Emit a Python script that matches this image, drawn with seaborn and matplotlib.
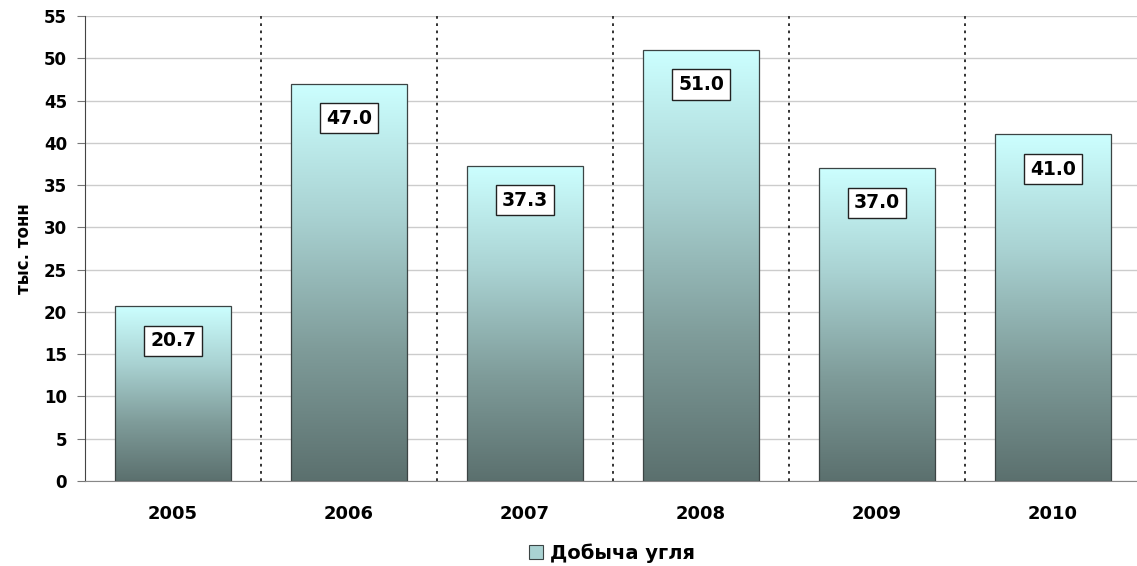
import numpy as np
import seaborn as sns
import matplotlib
matplotlib.use("Agg")
import matplotlib.pyplot as plt
from matplotlib.colors import LinearSegmentedColormap
from matplotlib.patches import Patch

# Coal production data
years = ["2005", "2006", "2007", "2008", "2009", "2010"]
production = [20.7, 47.0, 37.3, 51.0, 37.0, 41.0]
y_label = "тыс. тонн"
series_name = "Добыча угля"

sns.set_style("white")
plt.rcParams["font.family"] = ["DejaVu Sans"]
plt.rcParams["font.weight"] = "bold"
plt.rcParams["text.color"] = "black"
plt.rcParams["axes.labelcolor"] = "black"
plt.rcParams["xtick.color"] = "black"
plt.rcParams["ytick.color"] = "black"

fig = plt.figure(figsize=(11.37, 5.66), dpi=100)
ax = fig.add_axes([85 / 1137, 85 / 566, 1056 / 1137, 465 / 566])

sns.barplot(x=years, y=production, ax=ax, width=0.66, color="#9cc",
            edgecolor="#3c4444", linewidth=0.9, zorder=3)

# gradient fill inside each bar
grad_cmap = LinearSegmentedColormap.from_list(
    "coal", ["#5b706e", "#7f9c9a", "#a9d2d2", "#ccffff"])
grad = np.linspace(0, 1, 256).reshape(-1, 1)
for bar in ax.patches:
    bx, by = bar.get_x(), bar.get_y()
    bw, bh = bar.get_width(), bar.get_height()
    bar.set_facecolor("none")
    im = ax.imshow(grad, cmap=grad_cmap, origin="lower", aspect="auto",
                   extent=[bx, bx + bw, by, by + bh], zorder=2)
    im.set_clip_path(bar)

ax.set_xlim(-0.5, len(years) - 0.5)
ax.set_ylim(0, 55)
ax.set_yticks(range(0, 56, 5))

# value labels in boxes
for i, v in enumerate(production):
    ax.annotate(f"{v:.1f}", xy=(i, v), xytext=(0, -25), textcoords="offset points",
                ha="center", va="center", fontsize=13.5, fontweight="bold", zorder=5,
                bbox=dict(boxstyle="square,pad=0.3", fc="white", ec="#222222", lw=1))

# grid and separators
ax.grid(axis="y", color="#cccccc", lw=1, zorder=0)
ax.set_axisbelow(True)
for b in np.arange(0.5, len(years) - 0.5, 1):
    ax.axvline(b, color="#222222", linestyle=(0, (1.5, 2.5)), lw=1.3, zorder=1)

for side in ["top", "right"]:
    ax.spines[side].set_visible(False)
ax.spines["left"].set_color("#444444")
ax.spines["bottom"].set_color("#888888")

ax.set_xticks(np.arange(-0.5, len(years), 1), minor=True)
ax.tick_params(axis="x", which="minor", length=6, color="#555555", direction="out")
ax.tick_params(axis="x", which="major", length=0, pad=17, labelsize=13)
ax.tick_params(axis="y", length=6, color="#777777", direction="out", pad=7, labelsize=12)
ax.tick_params(axis="both", bottom=True, left=True)
for lab in ax.get_xticklabels() + ax.get_yticklabels():
    lab.set_fontweight("bold")

ax.set_ylabel(y_label, fontsize=12, fontweight="bold", labelpad=8)
ax.set_xlabel("")

handle = Patch(facecolor="#a9d2d2", edgecolor="#3c4444", lw=0.8)
fig.legend([handle], [series_name], loc="lower center", bbox_to_anchor=(612 / 1137, -0.025),
           frameon=False, handlelength=0.75, handleheight=0.75,
           handletextpad=0.35, prop={"weight": "bold", "size": 14})

fig.savefig("out.png", dpi=100)
